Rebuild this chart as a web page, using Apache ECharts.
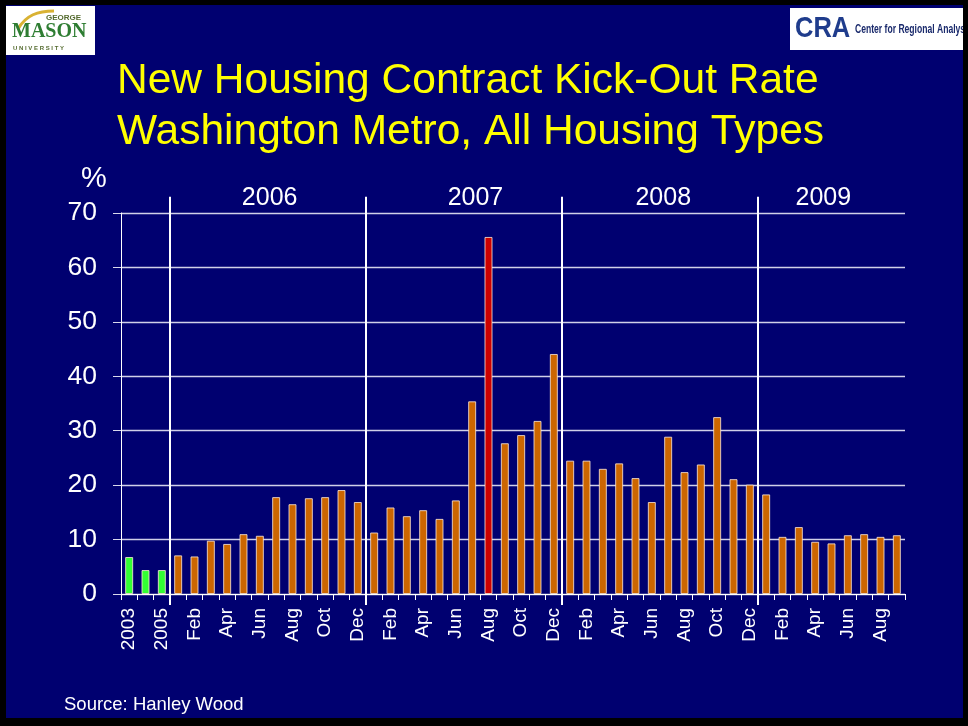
<!DOCTYPE html>
<html>
<head>
<meta charset="utf-8">
<script src="https://cdn.jsdelivr.net/npm/echarts@6/dist/echarts.min.js"></script>
<style>
html,body{margin:0;padding:0;background:#000;width:968px;height:726px;overflow:hidden;}
#chart{position:absolute;left:6px;top:5px;width:957px;height:713px;background:#000070;}
</style>
</head>
<body>
<div id="chart"></div>
<script>
// ---- data ----
const categories = ['2003','2004','2005',
  'Jan','Feb','Mar','Apr','May','Jun','Jul','Aug','Sep','Oct','Nov','Dec',
  'Jan','Feb','Mar','Apr','May','Jun','Jul','Aug','Sep','Oct','Nov','Dec',
  'Jan','Feb','Mar','Apr','May','Jun','Jul','Aug','Sep','Oct','Nov','Dec',
  'Jan','Feb','Mar','Apr','May','Jun','Jul','Aug','Sep'];
const annualValues = [6.8, 4.4, 4.4];
const values2006 = [7.1, 6.9, 9.8, 9.2, 11.0, 10.7, 17.8, 16.5, 17.6, 17.8, 19.1, 16.9];
const values2007 = [11.3, 15.9, 14.3, 15.4, 13.8, 17.2, 35.4, 65.6, 27.7, 29.2, 31.8, 44.1];
const values2008 = [24.5, 24.5, 23.0, 24.0, 21.3, 16.9, 28.9, 22.4, 23.8, 32.5, 21.1, 20.1];
const values2009 = [18.3, 10.5, 12.3, 9.6, 9.3, 10.8, 11.0, 10.5, 10.8];
const yTicks = [0, 10, 20, 30, 40, 50, 60, 70];
const yearNames = ['2006', '2007', '2008', '2009'];
const yearBoundaries = [3, 15, 27, 39];
const yearLabelPos = [9.1, 21.7, 33.2, 43.0];

const allValues = annualValues.concat(values2006, values2007, values2008, values2009);
const maxVal = Math.max.apply(null, allValues);

const chart = echarts.init(document.getElementById('chart'), null, {renderer: 'canvas'});
const FONT = '"Liberation Sans", Arial, sans-serif';

const sepData = yearBoundaries.map(b => [b, -2, 73]);
const yearData = yearNames.map((n, i) => [yearLabelPos[i], 72.7, n]);

chart.setOption({
  animation: false,
  backgroundColor: '#000070',
  grid: {left: 115, top: 208, width: 784, height: 381},
  xAxis: [{
    type: 'category',
    data: categories,
    boundaryGap: true,
    axisLine: {lineStyle: {color: '#ffffff', width: 1}},
    axisTick: {show: true, length: 6, interval: 0, lineStyle: {color: '#ffffff'}},
    axisLabel: {interval: 1, rotate: 90, color: '#ffffff', fontSize: 19, fontFamily: FONT, margin: 14}
  }, {
    type: 'value', min: 0, max: categories.length, show: false
  }],
  yAxis: {
    type: 'value', min: yTicks[0], max: yTicks[yTicks.length - 1], interval: 10,
    axisLine: {show: true, lineStyle: {color: '#ffffff', width: 1}},
    axisTick: {show: true, length: 8, lineStyle: {color: '#d8d8ec'}},
    axisLabel: {color: '#ffffff', fontSize: 26.5, fontFamily: FONT, margin: 24, padding: [5, 0, 0, 0]},
    splitLine: {show: true, lineStyle: {color: '#d0d0e8', width: 1.3}}
  },
  series: [{
    type: 'bar',
    data: allValues,
    barWidth: 8,
    itemStyle: {
      borderColor: 'rgba(255,235,215,0.8)', borderWidth: 1,
      color: function (p) {
        if (p.dataIndex < annualValues.length) return '#33ff33';
        if (p.value === maxVal) return '#cc0000';
        return '#cc6600';
      }
    },
    z: 3
  }, {
    type: 'custom',
    xAxisIndex: 1,
    data: sepData,
    clip: false,
    z: 4,
    renderItem: function (params, api) {
      const p1 = api.coord([api.value(0), api.value(1)]);
      const p2 = api.coord([api.value(0), api.value(2)]);
      return {type: 'line', shape: {x1: p1[0], y1: p1[1], x2: p2[0], y2: p2[1]},
        style: {stroke: '#ffffff', lineWidth: 2}};
    }
  }, {
    type: 'custom',
    xAxisIndex: 1,
    data: yearData,
    clip: false,
    z: 4,
    renderItem: function (params, api) {
      const p = api.coord([api.value(0), api.value(1)]);
      return {type: 'text', x: p[0], y: p[1],
        style: {text: yearData[params.dataIndex][2], fill: '#ffffff', font: '25px ' + FONT,
          textAlign: 'center', textVerticalAlign: 'middle'}};
    }
  }],
  graphic: [
    {type: 'text', left: 111, top: 55, style: {text: 'New Housing Contract Kick-Out Rate', fill: '#ffff00', font: '42.5px ' + FONT}},
    {type: 'text', left: 111, top: 106, style: {text: 'Washington Metro, All Housing Types', fill: '#ffff00', font: '42.5px ' + FONT}},
    {type: 'text', left: 75, top: 159, style: {text: '%', fill: '#ffffff', font: '29px ' + FONT}},
    {type: 'text', left: 58, top: 690, style: {text: 'Source: Hanley Wood', fill: '#ffffff', font: '18.5px ' + FONT}},
    // GMU logo
    {type: 'rect', shape: {x: 0, y: 1, width: 89, height: 49}, style: {fill: '#ffffff'}},
    {type: 'bezierCurve', shape: {x1: 12, y1: 24, cpx1: 20, cpy1: 10, x2: 48, y2: 6, cpx2: 32, cpy2: 6},
      style: {stroke: '#d9b233', lineWidth: 3, fill: null}},
    {type: 'text', x: 40, y: 9, style: {text: 'GEORGE', fill: '#556b2f', font: 'bold 8px ' + FONT}},
    {type: 'text', x: 6, y: 17, style: {text: 'MASON', fill: '#2e7d32', font: 'bold 20px "Liberation Serif", serif'}},
    {type: 'text', x: 7, y: 40, style: {text: 'U N I V E R S I T Y', fill: '#556b2f', font: 'bold 6px ' + FONT}},
    // CRA logo
    {type: 'rect', shape: {x: 784, y: 3, width: 180, height: 42}, style: {fill: '#ffffff'}},
    {type: 'text', x: 789, y: 9, scaleX: 0.85, style: {text: 'CRA', fill: '#1f3c8c', font: 'bold 30px ' + FONT}},
    {type: 'text', x: 849, y: 18, scaleX: 0.66, style: {text: 'Center for Regional Analysis', fill: '#1a2a6c', font: 'bold 13px ' + FONT}}
  ]
});
</script>
</body>
</html>
